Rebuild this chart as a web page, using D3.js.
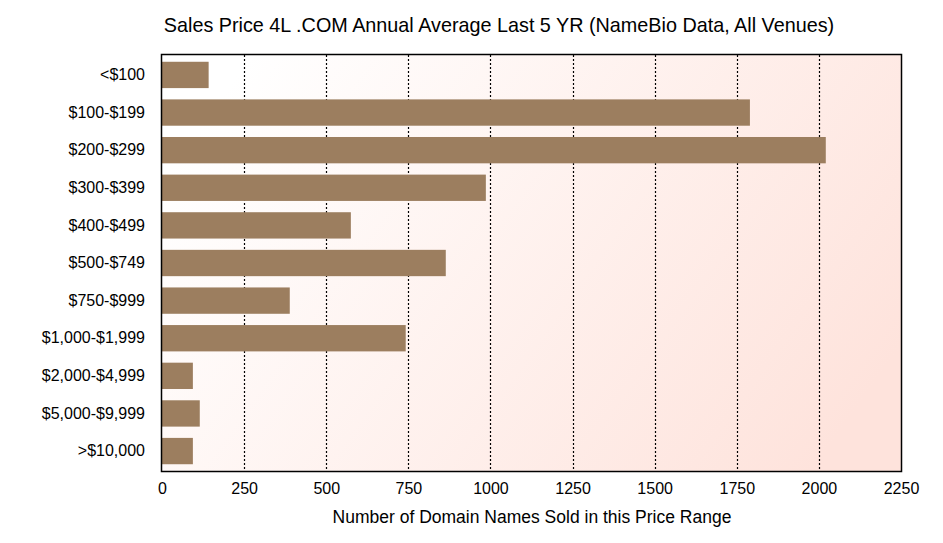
<!DOCTYPE html>
<html><head><meta charset="utf-8">
<script src="https://cdn.jsdelivr.net/npm/d3@7"></script>
<style>body{margin:0;background:#fff}svg{display:block;font-family:"Liberation Sans",Arial,Helvetica,sans-serif}</style>
</head><body><svg id="c" width="943" height="543"></svg>
<script>
const categories = ["<$100","$100-$199","$200-$299","$300-$399","$400-$499","$500-$749","$750-$999","$1,000-$1,999","$2,000-$4,999","$5,000-$9,999",">$10,000"];
const values = [142, 1790, 2021, 986, 575, 864, 389, 742, 94, 115, 94];
const xTicks = [0,250,500,750,1000,1250,1500,1750,2000,2250];
const title = "Sales Price 4L .COM Annual Average Last 5 YR (NameBio Data, All Venues)";
const xTitle = "Number of Domain Names Sold in this Price Range";

const svg = d3.select("#c");
const L = 162, R = 901, T = 55, B = 471;
const x = d3.scaleLinear().domain([0,2250]).range([L,R]);
const y = d3.scaleBand().domain(categories).range([T,B]).paddingInner(0.3).paddingOuter(0.18);

const defs = svg.append("defs");
const g = defs.append("linearGradient").attr("id","bg").attr("x1","0").attr("y1","0.3").attr("x2","1").attr("y2","0.7");
g.append("stop").attr("offset","0").attr("stop-color","#ffffff");
g.append("stop").attr("offset","1").attr("stop-color","#fee3dc");

svg.append("rect").attr("x",L).attr("y",T).attr("width",R-L).attr("height",B-T).attr("fill","url(#bg)");

svg.append("g").selectAll("line").data(xTicks.filter(d=>d>0&&d<2250)).join("line")
  .attr("x1",d=>Math.round(x(d))+0.5).attr("x2",d=>Math.round(x(d))+0.5)
  .attr("y1",T).attr("y2",B)
  .attr("stroke","#000").attr("stroke-width",1.2).attr("stroke-dasharray","2,2");

svg.append("g").selectAll("rect").data(values).join("rect")
  .attr("x",x(0)).attr("y",(d,i)=>y(categories[i]))
  .attr("width",d=>x(d)-x(0)).attr("height",y.bandwidth())
  .attr("fill","#9c7e5f");

svg.append("rect").attr("x",L-0.5).attr("y",T-0.5).attr("width",R-L+1).attr("height",B-T+1)
  .attr("fill","none").attr("stroke","#000").attr("stroke-width",1.5);

const xa = svg.append("g").attr("transform",`translate(0,${B})`)
  .call(d3.axisBottom(x).tickValues(xTicks).tickSize(0).tickPadding(12).tickFormat(d3.format("d")));
xa.select(".domain").remove();
xa.selectAll("text").attr("font-size",16).attr("fill","#000").attr("font-family","Liberation Sans, Arial, sans-serif");

const ya = svg.append("g").attr("transform",`translate(${L},0)`)
  .call(d3.axisLeft(y).tickSize(0).tickPadding(17));
ya.select(".domain").remove();
ya.selectAll("text").attr("font-size",16).attr("fill","#000").attr("font-family","Liberation Sans, Arial, sans-serif");

svg.append("text").attr("x",499).attr("y",32).attr("text-anchor","middle")
  .attr("font-size",19.8).attr("fill","#000").text(title);
svg.append("text").attr("x",532).attr("y",523).attr("text-anchor","middle")
  .attr("font-size",17.5).attr("fill","#000").text(xTitle);
</script></body></html>
